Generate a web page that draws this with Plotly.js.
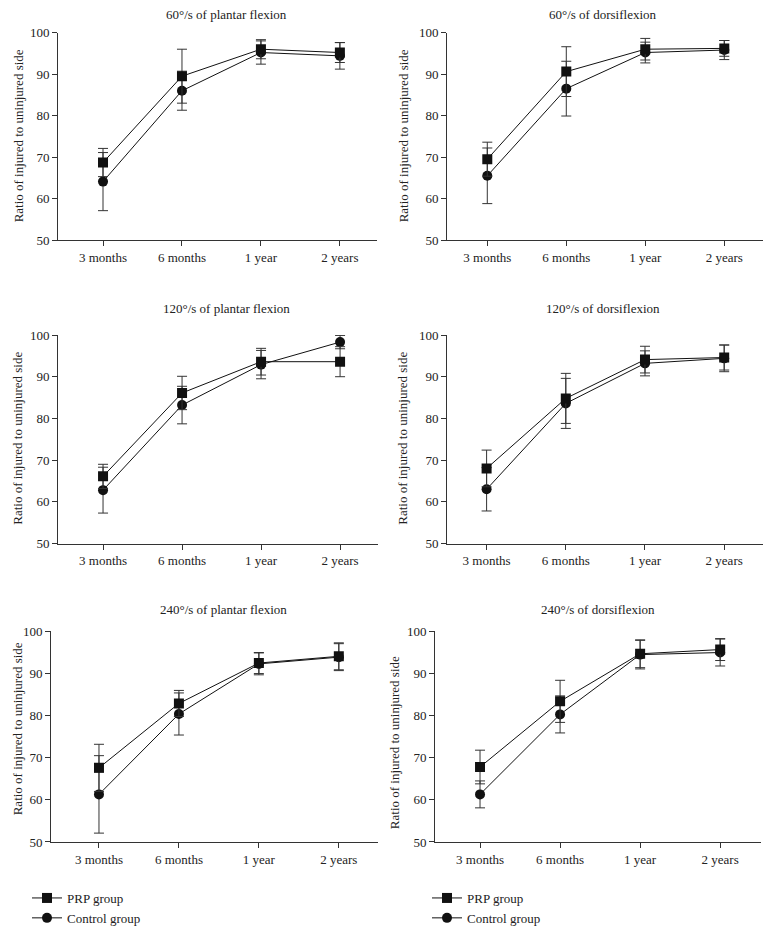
<!DOCTYPE html>
<html>
<head>
<meta charset="utf-8">
<script src="https://cdn.plot.ly/plotly-3.0.1.min.js"></script>
<style>html,body{margin:0;padding:0;background:#fff;}#chart{width:772px;height:933px;}</style>
</head>
<body>
<div id="chart"></div>
<script>
// ---- data ----
const categories = ['3 months', '6 months', '1 year', '2 years'];
const seriesNames = ['PRP group', 'Control group'];
const yTitle = 'Ratio of injured to uninjured side';

const titles = [
  '60°/s of plantar flexion',
  '60°/s of dorsiflexion',
  '120°/s of plantar flexion',
  '120°/s of dorsiflexion',
  '240°/s of plantar flexion',
  '240°/s of dorsiflexion'
];

// 60°/s plantar flexion
const prp60pf = [68.7, 89.5, 96.0, 95.2];
const prp60pfSD = [3.4, 6.5, 2.3, 2.4];
const ctl60pf = [64.1, 86.0, 95.2, 94.4];
const ctl60pfSD = [7.0, 4.7, 2.8, 3.2];

// 60°/s dorsiflexion
const prp60df = [69.5, 90.6, 96.0, 96.2];
const prp60dfSD = [4.1, 6.0, 2.6, 1.9];
const ctl60df = [65.5, 86.5, 95.2, 95.8];
const ctl60dfSD = [6.7, 6.6, 2.5, 2.3];

// 120°/s plantar flexion
const prp120pf = [66.1, 86.1, 93.6, 93.6];
const prp120pfSD = [2.9, 4.0, 3.2, 3.6];
const ctl120pf = [62.8, 83.2, 92.9, 98.3];
const ctl120pfSD = [5.5, 4.5, 3.4, 1.6];

// 120°/s dorsiflexion
const prp120df = [68.0, 84.8, 94.1, 94.6];
const prp120dfSD = [4.4, 6.0, 3.2, 3.0];
const ctl120df = [63.0, 83.6, 93.2, 94.4];
const ctl120dfSD = [5.2, 6.0, 3.0, 3.2];

// 240°/s plantar flexion
const prp240pf = [67.6, 82.9, 92.5, 94.1];
const prp240pfSD = [5.6, 3.1, 2.5, 3.2];
const ctl240pf = [61.3, 80.4, 92.3, 93.9];
const ctl240pfSD = [9.2, 5.0, 2.6, 3.2];

// 240°/s dorsiflexion
const prp240df = [67.8, 83.4, 94.7, 95.7];
const prp240dfSD = [4.0, 5.0, 3.3, 2.6];
const ctl240df = [61.3, 80.3, 94.5, 95.0];
const ctl240dfSD = [3.2, 4.4, 3.4, 3.2];

const prpSets = [[prp60pf, prp60pfSD], [prp60df, prp60dfSD], [prp120pf, prp120pfSD], [prp120df, prp120dfSD], [prp240pf, prp240pfSD], [prp240df, prp240dfSD]];
const ctlSets = [[ctl60pf, ctl60pfSD], [ctl60df, ctl60dfSD], [ctl120pf, ctl120pfSD], [ctl120df, ctl120dfSD], [ctl240pf, ctl240pfSD], [ctl240df, ctl240dfSD]];

// ---- layout geometry (pixels) ----
const W = 772, H = 933;
const boxes = [
  {x0: 58, x1: 377, y0: 33, y1: 243, r: [-0.57, 3.47], tx: 226, ty: 15, lx: 18, ly: 138},
  {x0: 447, x1: 763, y0: 33, y1: 243, r: [-0.51, 3.49], tx: 603, ty: 15, lx: 403, ly: 138},
  {x0: 58, x1: 378, y0: 339, y1: 550, r: [-0.57, 3.48], tx: 226, ty: 312, lx: 18, ly: 444},
  {x0: 447, x1: 763, y0: 339, y1: 550, r: [-0.5, 3.49], tx: 603, ty: 312, lx: 403, ly: 444},
  {x0: 51, x1: 378, y0: 639, y1: 852, r: [-0.6, 3.49], tx: 224, ty: 617, lx: 17, ly: 738},
  {x0: 435, x1: 761, y0: 639, y1: 852, r: [-0.5625, 3.51], tx: 598, ty: 617, lx: 394, ly: 752}
];

const FONT = 'Liberation Serif';
const INK = '#111';
const AX = '#333';
const legFont = {family: FONT, size: 13, color: '#222'};

const traces = [];
const layout = {
  width: W, height: H,
  margin: {l: 0, r: 0, t: 0, b: 0},
  paper_bgcolor: '#fff', plot_bgcolor: '#fff',
  font: {family: FONT, size: 13, color: '#222'},
  annotations: [],
  legend: {x: 27 / W, y: 1 - 894 / H, xanchor: 'left', yanchor: 'top', bgcolor: 'rgba(0,0,0,0)', font: legFont, itemwidth: 30, tracegroupgap: 0},
  legend2: {x: 427 / W, y: 1 - 894 / H, xanchor: 'left', yanchor: 'top', bgcolor: 'rgba(0,0,0,0)', font: legFont, itemwidth: 30, tracegroupgap: 0}
};

boxes.forEach((b, i) => {
  const n = i + 1;
  const xa = 'xaxis' + (n === 1 ? '' : n);
  const ya = 'yaxis' + (n === 1 ? '' : n);
  const xr = 'x' + (n === 1 ? '' : n);
  const yr = 'y' + (n === 1 ? '' : n);
  layout[xa] = {
    domain: [b.x0 / W, b.x1 / W], range: b.r, type: 'category', anchor: yr,
    showline: true, linecolor: AX, linewidth: 1, ticks: 'outside', ticklen: 5, tickcolor: AX,
    showgrid: false, zeroline: false, tickfont: {family: FONT, size: 13, color: '#222'},
    fixedrange: true
  };
  layout[ya] = {
    domain: [1 - b.y1 / H, 1 - b.y0 / H], range: [50, 100], dtick: 10, tick0: 50, anchor: xr,
    showline: true, linecolor: AX, linewidth: 1, ticks: 'outside', ticklen: 5, tickcolor: AX,
    showgrid: false, zeroline: false, tickfont: {family: FONT, size: 13, color: '#222'},
    fixedrange: true
  };
  layout.annotations.push({
    text: titles[i], xref: 'paper', yref: 'paper', x: b.tx / W, y: 1 - b.ty / H,
    xanchor: 'center', yanchor: 'middle', showarrow: false, font: {family: FONT, size: 13, color: '#222'}
  });
  layout.annotations.push({
    text: yTitle, xref: 'paper', yref: 'paper', x: b.lx / W, y: 1 - b.ly / H, textangle: -90,
    xanchor: 'center', yanchor: 'middle', showarrow: false, font: {family: FONT, size: 13, color: '#222'}
  });

  const legendName = i === 0 ? 'legend' : 'legend2';
  const showLeg = i === 0 || i === 1;
  // control first (drawn underneath)
  traces.push({
    type: 'scatter', mode: 'lines+markers', x: categories, y: ctlSets[i][0], name: seriesNames[1],
    xaxis: xr, yaxis: yr, legend: legendName, showlegend: showLeg, legendrank: 2,
    line: {color: INK, width: 1}, marker: {symbol: 'circle', size: 10, color: INK},
    error_y: {type: 'data', array: ctlSets[i][1], visible: true, color: AX, thickness: 1, width: 5}
  });
  traces.push({
    type: 'scatter', mode: 'lines+markers', x: categories, y: prpSets[i][0], name: seriesNames[0],
    xaxis: xr, yaxis: yr, legend: legendName, showlegend: showLeg, legendrank: 1,
    line: {color: INK, width: 1}, marker: {symbol: 'square', size: 10, color: INK},
    error_y: {type: 'data', array: prpSets[i][1], visible: true, color: AX, thickness: 1, width: 5}
  });
});

Plotly.newPlot('chart', traces, layout, {staticPlot: true, displayModeBar: false});
</script>
</body>
</html>
